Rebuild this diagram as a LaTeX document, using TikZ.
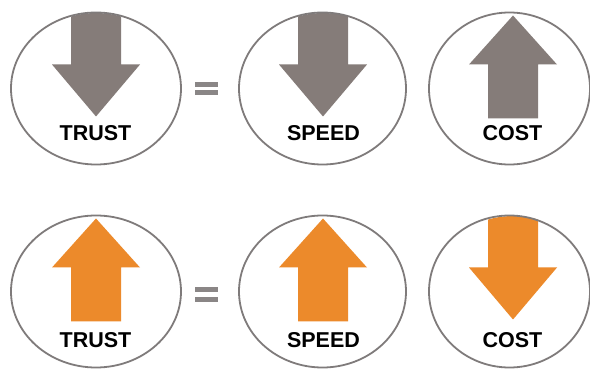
\documentclass[tikz,border=0pt]{standalone}
\usepackage{fontspec}
\setmainfont{Liberation Sans}
\usetikzlibrary{shapes.geometric}
\definecolor{arrgray}{HTML}{857C79}
\definecolor{arrorange}{HTML}{EC8A2B}
\definecolor{ringgray}{HTML}{7F7B7B}
\definecolor{eqgray}{HTML}{8A8686}
\newcommand\arrDown[3]{%
  \begin{scope}
    \clip (#1,#2) ellipse [x radius=82pt, y radius=75.5pt];
    \fill[#3] ({#1-25},{#2-80}) -- ({#1+25},{#2-80}) -- ({#1+25},{#2-24}) -- ({#1+44},{#2-24}) -- (#1,{#2+28}) -- ({#1-44},{#2-24}) -- ({#1-25},{#2-24}) -- cycle;
  \end{scope}}
\newcommand\arrUp[3]{%
  \fill[#3] ({#1-25},{#2+30}) -- ({#1+25},{#2+30}) -- ({#1+25},{#2-24}) -- ({#1+44},{#2-24}) -- (#1,{#2-73}) -- ({#1-44},{#2-24}) -- ({#1-25},{#2-24}) -- cycle;}
\begin{document}
\begin{tikzpicture}[x=1pt,y=-1pt,
  ring/.style={draw=ringgray, line width=1.8pt, ellipse, minimum width=#1, minimum height=152pt, inner sep=0pt},
  lbl/.style={font=\bfseries\fontsize{21.5}{21.5}\selectfont, inner sep=0pt, text=black},
  eqbar/.style={fill=eqgray}]
\useasboundingbox[fill=white] (0,0) rectangle (590,371);
% top row arrows
\arrDown{96}{88.5}{arrgray}
\arrDown{323}{88.5}{arrgray}
\arrUp{513}{88.5}{arrgray}
% bottom row arrows
\arrUp{96}{291.5}{arrorange}
\arrUp{323}{291.5}{arrorange}
\arrDown{513}{291.5}{arrorange}
% rings
\node[ring=170pt] (c11) at (96,88.5) {};
\node[ring=167pt] (c12) at (322.5,88.5) {};
\node[ring=161pt] (c13) at (509.5,88.5) {};
\node[ring=170pt] (c21) at (96,291.5) {};
\node[ring=167pt] (c22) at (322.5,291.5) {};
\node[ring=161pt] (c23) at (509.5,291.5) {};
% labels
\node[lbl] (l11) at (95.5,133) {TRUST};
\node[lbl] (l12) at (323.5,133) {SPEED};
\node[lbl] (l13) at (512.5,133) {COST};
\node[lbl] (l21) at (95.5,340) {TRUST};
\node[lbl] (l22) at (323.5,340) {SPEED};
\node[lbl] (l23) at (512.5,340) {COST};
% equals signs
\fill[eqbar] (195,82) rectangle (218,87);
\fill[eqbar] (195,90.5) rectangle (218,95.5);
\fill[eqbar] (195,287) rectangle (218,292);
\fill[eqbar] (195,297) rectangle (218,302);
\end{tikzpicture}
\end{document}
